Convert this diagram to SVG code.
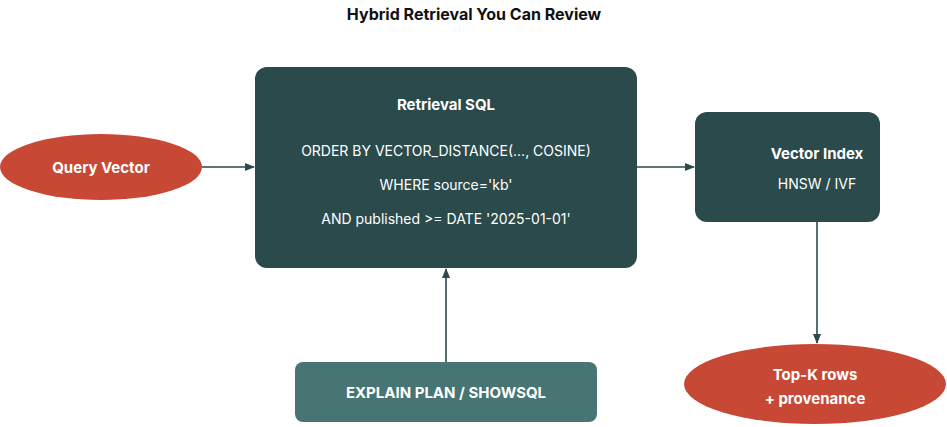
<svg xmlns="http://www.w3.org/2000/svg" width="947" height="427" viewBox="0 0 947 427">
<style>
text{font-family:Inter,"Noto Sans",sans-serif;fill:#fff;text-anchor:middle}
.t{fill:#111;font-weight:700;font-size:16px}
.b{font-weight:700;font-size:15px}
.n{font-size:14px}
.dark{fill:#2b4a4b}
.red{fill:#c84836}
.ln{stroke:#2b4a4b;stroke-width:1.6;fill:none;marker-end:url(#a)}
</style>
<defs><marker id="a" markerWidth="10" markerHeight="8" refX="9" refY="4" orient="auto" markerUnits="userSpaceOnUse"><path d="M0,0L10,4L0,8z" fill="#2b4a4b"/></marker></defs>
<rect width="947" height="427" fill="#fff"/>
<text class="t" x="474" y="20">Hybrid Retrieval You Can Review</text>
<g id="connectors">
<line class="ln" x1="202" y1="167" x2="254" y2="167"/>
<line class="ln" x1="637" y1="167" x2="694" y2="167"/>
<line class="ln" x1="817" y1="222" x2="817" y2="343"/>
<line class="ln" x1="446" y1="362" x2="446" y2="269"/>
</g>
<g id="query"><ellipse class="red" cx="101" cy="167" rx="101" ry="33"/><text class="b" x="101" y="173">Query Vector</text></g>
<g id="sql"><rect class="dark" x="255" y="67" width="382" height="201" rx="12"/>
<text class="b" x="446" y="110">Retrieval SQL</text>
<text class="n" x="446" y="156">ORDER BY VECTOR_DISTANCE(..., COSINE)</text>
<text class="n" x="446" y="190">WHERE source='kb'</text>
<text class="n" x="446" y="224">AND published &gt;= DATE '2025-01-01'</text></g>
<g id="index"><rect class="dark" x="695" y="112" width="185" height="110" rx="12"/>
<text class="b" x="817" y="159">Vector Index</text>
<text class="n" x="817" y="189">HNSW / IVF</text></g>
<g id="topk"><ellipse class="red" cx="815" cy="384" rx="131" ry="40"/>
<text class="b" x="815" y="380">Top-K rows</text><text class="b" x="815" y="404">+ provenance</text></g>
<g id="explain"><rect x="295" y="362" width="302" height="60" rx="8" fill="#467573"/>
<text class="b" x="446" y="398">EXPLAIN PLAN / SHOWSQL</text></g>
</svg>
